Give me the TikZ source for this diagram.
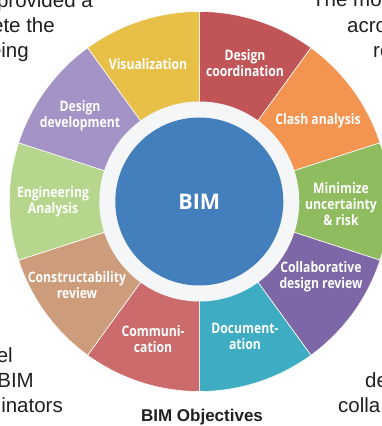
\documentclass[tikz,border=0pt]{standalone}
\usepackage{fontspec}
\setmainfont{Liberation Sans}
\newfontfamily\labfont{Open Sans}[FakeStretch=0.84]
\newfontfamily\bimfont{Open Sans}
\usetikzlibrary{calc}
\definecolor{cVis}{HTML}{E8BF47}
\definecolor{cDcoord}{HTML}{C05456}
\definecolor{cClash}{HTML}{F39451}
\definecolor{cMin}{HTML}{8EBC5E}
\definecolor{cCollab}{HTML}{7D67A6}
\definecolor{cDoc}{HTML}{3EACC3}
\definecolor{cComm}{HTML}{CC6B6B}
\definecolor{cCons}{HTML}{CD9C7A}
\definecolor{cEng}{HTML}{B6D68D}
\definecolor{cDdev}{HTML}{A393C6}
\definecolor{ringc}{HTML}{F4F6F8}
\definecolor{bimblue}{HTML}{437FBD}
\definecolor{txtgray}{HTML}{231F20}
\begin{document}
\begin{tikzpicture}[x=1pt,y=1pt,
  seg/.style={fill=#1, draw=white, line width=0.6pt, line join=round},
  lab/.style={text=white, font=\labfont\bfseries\fontsize{14.5}{16}\selectfont, align=center, inner sep=0pt},
  bg/.style={text=txtgray, font=\fontsize{20.5}{25}\selectfont, inner sep=0pt}]
\useasboundingbox (0,0) rectangle (382,426);
\clip (0,0) rectangle (382,426);
\fill[white] (0,0) rectangle (382,426);
\coordinate (C) at (199.3,224.5);
\foreach \a/\c in {90/cDcoord, 54/cClash, 18/cMin, -18/cCollab, -54/cDoc, -90/cComm, -126/cCons, -162/cEng, -198/cDdev, -234/cVis}{
  \path[seg=\c] (C) -- ($(C)+(\a:190)$) arc[start angle=\a, end angle=\a-36, radius=190] -- cycle;
}
\fill[ringc] (C) circle[radius=100];
\node[circle, fill=bimblue, minimum size=168pt, inner sep=0pt, text=white, font=\bimfont\bfseries\fontsize{21.5}{24}\selectfont] (bim) at (C) {BIM};
% segment labels
\node[lab] (vis) at (148,362) {Visualization};
\node[lab] (dcoord) at (245,363) {Design\\coordination};
\node[lab] (clash) at (318,305) {Clash analysis};
\node[lab] (minim) at (341,222) {Minimize\\uncertainty\\\& risk};
\node[lab] (collab) at (321,149) {Collaborative\\design review};
\node[lab] (doc) at (245,90) {Document-\\ation};
\node[lab] (comm) at (153,87) {Communi-\\cation};
\node[lab] (cons) at (77,141) {Constructability\\review};
\node[lab] (eng) at (53,224) {Engineering\\Analysis};
\node[lab] (ddev) at (80,310) {Design\\development};
% background text fragments
\node[bg, anchor=base east] (t1) at (93,418) {provided a};
\node[bg, anchor=base east] (t2) at (55,393) {ete the};
\node[bg, anchor=base east] (t3) at (29,368) {eing};
\node[bg, anchor=base west] (t4) at (312,419) {The mo};
\node[bg, anchor=base west] (t5) at (347,393) {acro};
\node[bg, anchor=base west] (t6) at (373,368) {re};
\node[bg, anchor=base east] (b1) at (13,63) {el};
\node[bg, anchor=base east] (b2) at (34,38) {BIM};
\node[bg, anchor=base east] (b3) at (63,13) {inators};
\node[bg, anchor=base west] (r1) at (365,38) {de};
\node[bg, anchor=base west] (r2) at (338,13) {colla};
% caption
\node[text=txtgray, font=\bfseries\fontsize{17}{20}\selectfont, inner sep=0pt, anchor=base] (cap) at (202,5) {BIM Objectives};
\end{tikzpicture}
\end{document}
